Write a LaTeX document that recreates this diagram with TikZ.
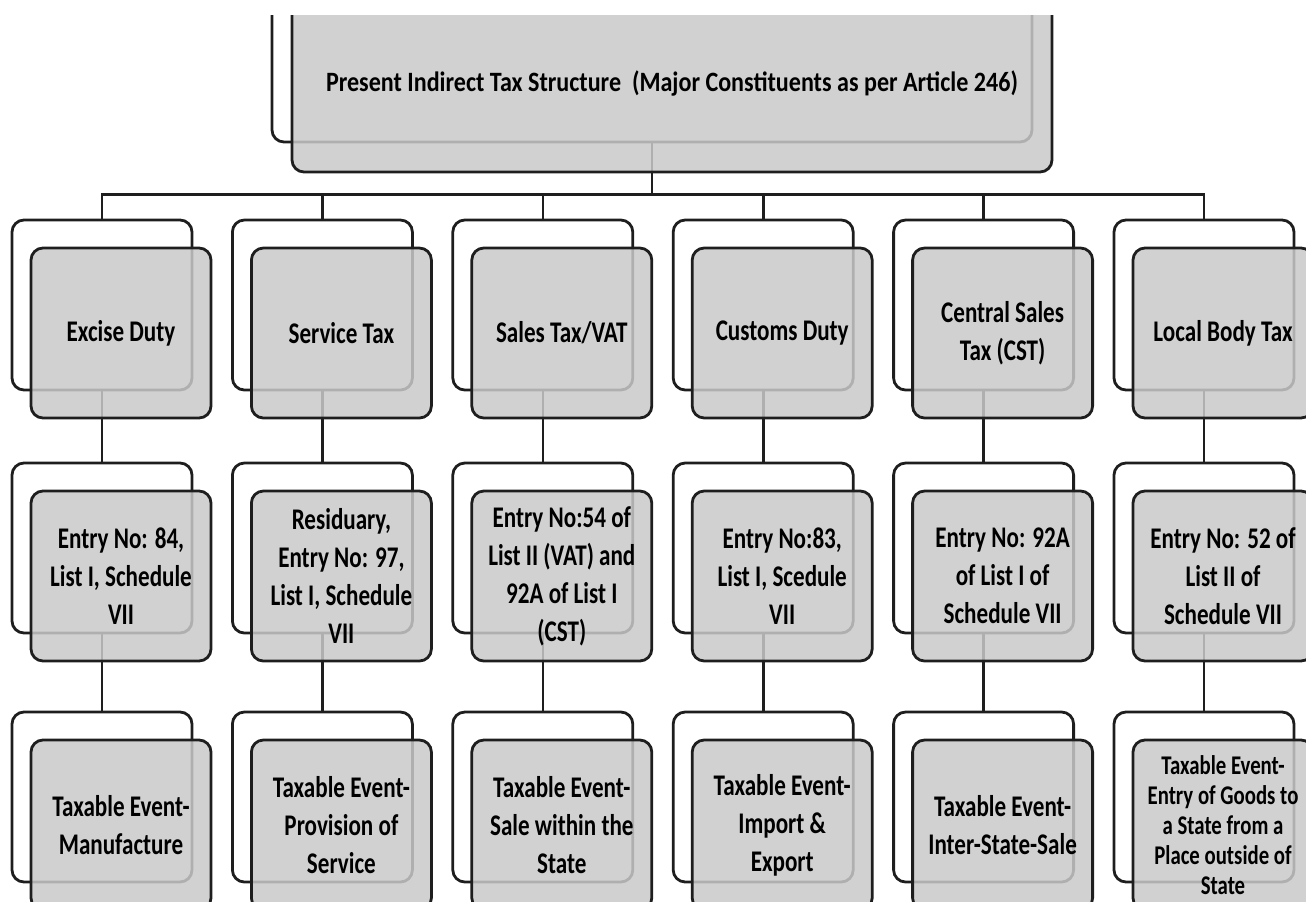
\documentclass[tikz,border=0pt]{standalone}
\usepackage{fontspec}
\setmainfont{Carlito}[FakeStretch=0.86]
\newfontfamily\narrowfont{Carlito}[FakeStretch=0.77]
\definecolor{boxgrey}{RGB}{201,201,201}
\definecolor{edge}{RGB}{30,30,30}
\begin{document}
\begin{tikzpicture}[x=0.5pt,y=-0.5pt,
    back/.style={draw=edge,line width=1.4pt,rounded corners=6pt,minimum width=90pt,minimum height=85pt},
    card/.style={draw=edge,line width=1.4pt,rounded corners=6pt,fill=boxgrey,fill opacity=0.85,text opacity=1,
        minimum width=90pt,minimum height=85pt,align=center,inner sep=1pt,
        font=\narrowfont\bfseries\fontsize{15}{19}\selectfont},
    small/.style={font=\narrowfont\bfseries\fontsize{13.5}{15}\selectfont},
    link/.style={draw=edge,line width=1.3pt}]
\useasboundingbox (0,0) rectangle (1306,901);
\clip (0,15) rectangle (1306,901);
% frames behind the cards
\node[back,minimum width=380pt,minimum height=89pt] (headback) at (652,53) {};
\foreach \i in {0,...,5}{
    \node[back] (taxback\i) at (102+220.4*\i,305) {};
    \node[back] (entryback\i) at (102+220.4*\i,548) {};
    \node[back] (eventback\i) at (102+220.4*\i,797) {};
}
% tree lines
\foreach \i in {0,...,5}{
    \draw[link] (headback.south) -- ++(0,51) -| (taxback\i.north);
    \draw[link] (taxback\i.south) -- (entryback\i.north);
    \draw[link] (entryback\i.south) -- (eventback\i.north);
}
% cards
\node[card,minimum width=380pt,minimum height=89pt,font=\bfseries\fontsize{14}{18}\selectfont] (head)
    at ([shift={(20,30)}]headback.center)
    {Present Indirect Tax Structure~ (Major Constituents as per Article 246)};
\foreach \i/\tax/\entry/\event/\evstyle in {
    0/{Excise Duty}/{Entry No: 84,\\List I, Schedule\\VII}/{Taxable Event-\\Manufacture}/card,
    1/{Service Tax}/{Residuary,\\Entry No: 97,\\List I, Schedule\\VII}/{Taxable Event-\\Provision of\\Service}/card,
    2/{Sales Tax/VAT}/{Entry No:54 of\\List II (VAT) and\\92A of List I\\(CST)}/{Taxable Event-\\Sale within the\\State}/card,
    3/{Customs Duty}/{Entry No:83,\\List I, Scedule\\VII}/{Taxable Event-\\Import \&\\Export}/card,
    4/{Central Sales\\Tax (CST)}/{Entry No: 92A\\of List I of\\Schedule VII}/{Taxable Event-\\Inter-State-Sale}/card,
    5/{Local Body Tax}/{Entry No: 52 of\\List II of\\Schedule VII}/{Taxable Event-\\Entry of Goods to\\a State from a\\Place outside of\\State}/small}{
    \node[card] (tax\i) at ([shift={(19,28)}]taxback\i.center) {\tax};
    \node[card] (entry\i) at ([shift={(19,28)}]entryback\i.center) {\entry};
    \node[card,\evstyle] (event\i) at ([shift={(19,28)}]eventback\i.center) {\event};
}
\end{tikzpicture}
\end{document}
